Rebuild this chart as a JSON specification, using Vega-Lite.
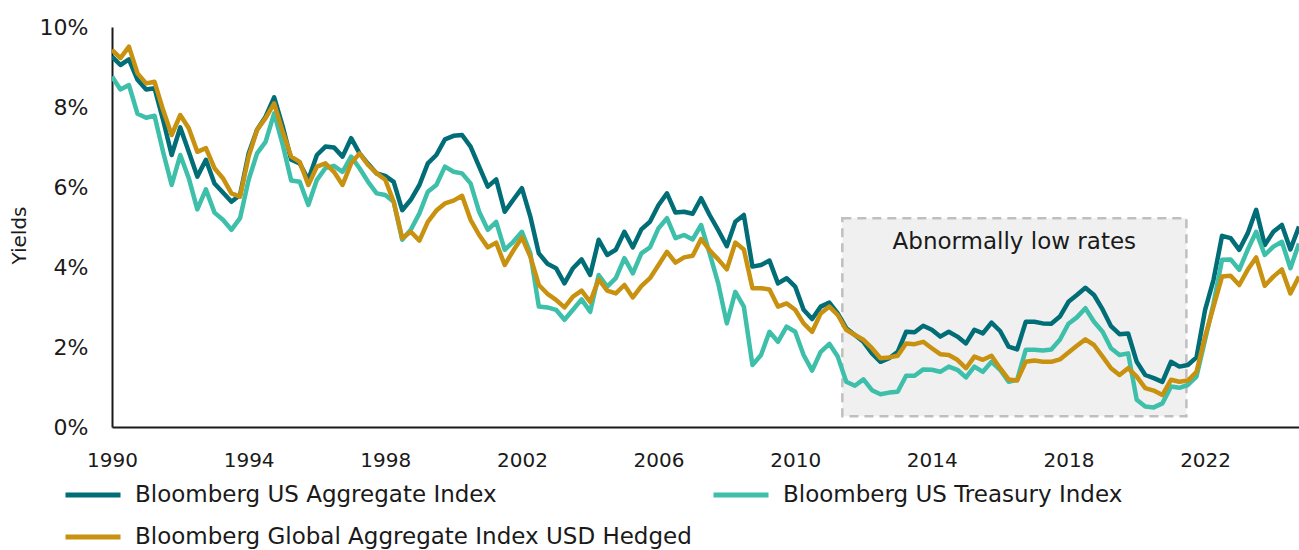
{
  "$schema": "https://vega.github.io/schema/vega-lite/v6.json",
  "width": 1187,
  "height": 400,
  "autosize": {"type": "none"},
  "padding": {"left": 112, "top": 27, "right": 0, "bottom": 123},
  "background": "white",
  "config": {"font": "DejaVu Sans", "view": {"stroke": null}},
  "datasets": {
    "names": [
      {"key": "agg", "name": "Bloomberg US Aggregate Index"},
      {"key": "tsy", "name": "Bloomberg US Treasury Index"},
      {"key": "glb", "name": "Bloomberg Global Aggregate Index USD Hedged"}
    ],
    "box": [
      {"date": "2011-05-20", "end": "2021-06-15", "value": 0.27, "hi": 5.22}
    ],
    "note": [
      {"date": "2016-06-01", "value": 4.63, "label": "Abnormally low rates"}
    ],
    "yields": [
      {"date": "1990-01-01", "agg": 9.26, "tsy": 8.76, "glb": 9.43},
      {"date": "1990-04-01", "agg": 9.05, "tsy": 8.44, "glb": 9.22},
      {"date": "1990-07-01", "agg": 9.19, "tsy": 8.55, "glb": 9.51},
      {"date": "1990-10-01", "agg": 8.68, "tsy": 7.83, "glb": 8.84},
      {"date": "1991-01-01", "agg": 8.44, "tsy": 7.73, "glb": 8.59},
      {"date": "1991-04-01", "agg": 8.47, "tsy": 7.78, "glb": 8.63},
      {"date": "1991-07-01", "agg": 7.68, "tsy": 6.88, "glb": 7.93},
      {"date": "1991-10-01", "agg": 6.8, "tsy": 6.05, "glb": 7.3},
      {"date": "1992-01-01", "agg": 7.49, "tsy": 6.8, "glb": 7.8},
      {"date": "1992-04-01", "agg": 6.88, "tsy": 6.22, "glb": 7.47},
      {"date": "1992-07-01", "agg": 6.26, "tsy": 5.44, "glb": 6.88},
      {"date": "1992-10-01", "agg": 6.68, "tsy": 5.94, "glb": 6.97},
      {"date": "1993-01-01", "agg": 6.09, "tsy": 5.36, "glb": 6.47},
      {"date": "1993-04-01", "agg": 5.86, "tsy": 5.18, "glb": 6.22},
      {"date": "1993-07-01", "agg": 5.63, "tsy": 4.93, "glb": 5.84},
      {"date": "1993-10-01", "agg": 5.8, "tsy": 5.22, "glb": 5.76},
      {"date": "1994-01-01", "agg": 6.84, "tsy": 6.18, "glb": 6.76},
      {"date": "1994-04-01", "agg": 7.43, "tsy": 6.84, "glb": 7.43},
      {"date": "1994-07-01", "agg": 7.76, "tsy": 7.13, "glb": 7.72},
      {"date": "1994-10-01", "agg": 8.24, "tsy": 7.84, "glb": 8.09},
      {"date": "1995-01-01", "agg": 7.51, "tsy": 7.05, "glb": 7.38},
      {"date": "1995-04-01", "agg": 6.68, "tsy": 6.16, "glb": 6.76},
      {"date": "1995-07-01", "agg": 6.59, "tsy": 6.13, "glb": 6.63},
      {"date": "1995-10-01", "agg": 6.18, "tsy": 5.55, "glb": 6.05},
      {"date": "1996-01-01", "agg": 6.8, "tsy": 6.18, "glb": 6.51},
      {"date": "1996-04-01", "agg": 7.01, "tsy": 6.47, "glb": 6.59},
      {"date": "1996-07-01", "agg": 6.99, "tsy": 6.53, "glb": 6.38},
      {"date": "1996-10-01", "agg": 6.76, "tsy": 6.38, "glb": 6.05},
      {"date": "1997-01-01", "agg": 7.22, "tsy": 6.76, "glb": 6.59},
      {"date": "1997-04-01", "agg": 6.84, "tsy": 6.47, "glb": 6.84},
      {"date": "1997-07-01", "agg": 6.58, "tsy": 6.13, "glb": 6.55},
      {"date": "1997-10-01", "agg": 6.34, "tsy": 5.84, "glb": 6.34},
      {"date": "1998-01-01", "agg": 6.28, "tsy": 5.8, "glb": 6.18},
      {"date": "1998-04-01", "agg": 6.13, "tsy": 5.63, "glb": 5.63},
      {"date": "1998-07-01", "agg": 5.42, "tsy": 4.68, "glb": 4.72},
      {"date": "1998-10-01", "agg": 5.68, "tsy": 4.93, "glb": 4.88},
      {"date": "1999-01-01", "agg": 6.05, "tsy": 5.34, "glb": 4.66},
      {"date": "1999-04-01", "agg": 6.59, "tsy": 5.88, "glb": 5.13},
      {"date": "1999-07-01", "agg": 6.8, "tsy": 6.05, "glb": 5.41},
      {"date": "1999-10-01", "agg": 7.19, "tsy": 6.51, "glb": 5.59},
      {"date": "2000-01-01", "agg": 7.28, "tsy": 6.38, "glb": 5.66},
      {"date": "2000-04-01", "agg": 7.3, "tsy": 6.34, "glb": 5.78},
      {"date": "2000-07-01", "agg": 7.01, "tsy": 6.09, "glb": 5.18},
      {"date": "2000-10-01", "agg": 6.51, "tsy": 5.38, "glb": 4.8},
      {"date": "2001-01-01", "agg": 6.01, "tsy": 4.93, "glb": 4.49},
      {"date": "2001-04-01", "agg": 6.19, "tsy": 5.13, "glb": 4.61},
      {"date": "2001-07-01", "agg": 5.38, "tsy": 4.43, "glb": 4.05},
      {"date": "2001-10-01", "agg": 5.68, "tsy": 4.63, "glb": 4.41},
      {"date": "2002-01-01", "agg": 5.97, "tsy": 4.88, "glb": 4.74},
      {"date": "2002-04-01", "agg": 5.26, "tsy": 4.34, "glb": 4.26},
      {"date": "2002-07-01", "agg": 4.34, "tsy": 3.01, "glb": 3.55},
      {"date": "2002-10-01", "agg": 4.08, "tsy": 2.99, "glb": 3.33},
      {"date": "2003-01-01", "agg": 3.97, "tsy": 2.93, "glb": 3.18},
      {"date": "2003-04-01", "agg": 3.59, "tsy": 2.68, "glb": 2.99},
      {"date": "2003-07-01", "agg": 3.97, "tsy": 2.93, "glb": 3.26},
      {"date": "2003-10-01", "agg": 4.19, "tsy": 3.19, "glb": 3.41},
      {"date": "2004-01-01", "agg": 3.8, "tsy": 2.88, "glb": 3.13},
      {"date": "2004-04-01", "agg": 4.68, "tsy": 3.8, "glb": 3.69},
      {"date": "2004-07-01", "agg": 4.3, "tsy": 3.51, "glb": 3.41},
      {"date": "2004-10-01", "agg": 4.43, "tsy": 3.72, "glb": 3.34},
      {"date": "2005-01-01", "agg": 4.88, "tsy": 4.22, "glb": 3.55},
      {"date": "2005-04-01", "agg": 4.49, "tsy": 3.84, "glb": 3.24},
      {"date": "2005-07-01", "agg": 4.94, "tsy": 4.34, "glb": 3.52},
      {"date": "2005-10-01", "agg": 5.13, "tsy": 4.49, "glb": 3.72},
      {"date": "2006-01-01", "agg": 5.55, "tsy": 4.97, "glb": 4.05},
      {"date": "2006-04-01", "agg": 5.84, "tsy": 5.22, "glb": 4.38},
      {"date": "2006-07-01", "agg": 5.36, "tsy": 4.72, "glb": 4.11},
      {"date": "2006-10-01", "agg": 5.38, "tsy": 4.8, "glb": 4.24},
      {"date": "2007-01-01", "agg": 5.33, "tsy": 4.69, "glb": 4.28},
      {"date": "2007-04-01", "agg": 5.72, "tsy": 5.05, "glb": 4.7},
      {"date": "2007-07-01", "agg": 5.3, "tsy": 4.34, "glb": 4.42},
      {"date": "2007-10-01", "agg": 4.92, "tsy": 3.59, "glb": 4.19},
      {"date": "2008-01-01", "agg": 4.52, "tsy": 2.59, "glb": 3.94},
      {"date": "2008-04-01", "agg": 5.13, "tsy": 3.38, "glb": 4.61},
      {"date": "2008-07-01", "agg": 5.3, "tsy": 3.01, "glb": 4.44},
      {"date": "2008-10-01", "agg": 4.01, "tsy": 1.55, "glb": 3.47},
      {"date": "2009-01-01", "agg": 4.05, "tsy": 1.8, "glb": 3.47},
      {"date": "2009-04-01", "agg": 4.16, "tsy": 2.38, "glb": 3.44},
      {"date": "2009-07-01", "agg": 3.59, "tsy": 2.13, "glb": 3.01},
      {"date": "2009-10-01", "agg": 3.72, "tsy": 2.51, "glb": 3.09},
      {"date": "2010-01-01", "agg": 3.51, "tsy": 2.38, "glb": 2.93},
      {"date": "2010-04-01", "agg": 2.93, "tsy": 1.8, "glb": 2.59},
      {"date": "2010-07-01", "agg": 2.7, "tsy": 1.41, "glb": 2.38},
      {"date": "2010-10-01", "agg": 3.01, "tsy": 1.88, "glb": 2.84},
      {"date": "2011-01-01", "agg": 3.11, "tsy": 2.08, "glb": 3.01},
      {"date": "2011-04-01", "agg": 2.84, "tsy": 1.76, "glb": 2.8},
      {"date": "2011-07-01", "agg": 2.47, "tsy": 1.13, "glb": 2.43},
      {"date": "2011-10-01", "agg": 2.3, "tsy": 1.03, "glb": 2.3},
      {"date": "2012-01-01", "agg": 2.13, "tsy": 1.19, "glb": 2.18},
      {"date": "2012-04-01", "agg": 1.84, "tsy": 0.92, "glb": 1.97},
      {"date": "2012-07-01", "agg": 1.63, "tsy": 0.82, "glb": 1.72},
      {"date": "2012-10-01", "agg": 1.72, "tsy": 0.86, "glb": 1.74},
      {"date": "2013-01-01", "agg": 1.88, "tsy": 0.88, "glb": 1.78},
      {"date": "2013-04-01", "agg": 2.38, "tsy": 1.28, "glb": 2.09},
      {"date": "2013-07-01", "agg": 2.37, "tsy": 1.28, "glb": 2.07},
      {"date": "2013-10-01", "agg": 2.53, "tsy": 1.44, "glb": 2.13},
      {"date": "2014-01-01", "agg": 2.43, "tsy": 1.43, "glb": 1.97},
      {"date": "2014-04-01", "agg": 2.26, "tsy": 1.38, "glb": 1.82},
      {"date": "2014-07-01", "agg": 2.38, "tsy": 1.51, "glb": 1.8},
      {"date": "2014-10-01", "agg": 2.26, "tsy": 1.43, "glb": 1.68},
      {"date": "2015-01-01", "agg": 2.09, "tsy": 1.24, "glb": 1.47},
      {"date": "2015-04-01", "agg": 2.43, "tsy": 1.51, "glb": 1.76},
      {"date": "2015-07-01", "agg": 2.34, "tsy": 1.38, "glb": 1.68},
      {"date": "2015-10-01", "agg": 2.61, "tsy": 1.63, "glb": 1.78},
      {"date": "2016-01-01", "agg": 2.4, "tsy": 1.43, "glb": 1.47},
      {"date": "2016-04-01", "agg": 2.01, "tsy": 1.13, "glb": 1.19},
      {"date": "2016-07-01", "agg": 1.94, "tsy": 1.18, "glb": 1.16},
      {"date": "2016-10-01", "agg": 2.63, "tsy": 1.93, "glb": 1.63},
      {"date": "2017-01-01", "agg": 2.63, "tsy": 1.93, "glb": 1.66},
      {"date": "2017-04-01", "agg": 2.59, "tsy": 1.91, "glb": 1.63},
      {"date": "2017-07-01", "agg": 2.58, "tsy": 1.94, "glb": 1.63},
      {"date": "2017-10-01", "agg": 2.76, "tsy": 2.18, "glb": 1.69},
      {"date": "2018-01-01", "agg": 3.13, "tsy": 2.58, "glb": 1.86},
      {"date": "2018-04-01", "agg": 3.3, "tsy": 2.74, "glb": 2.03},
      {"date": "2018-07-01", "agg": 3.48, "tsy": 2.97, "glb": 2.19},
      {"date": "2018-10-01", "agg": 3.3, "tsy": 2.63, "glb": 2.05},
      {"date": "2019-01-01", "agg": 2.94, "tsy": 2.38, "glb": 1.76},
      {"date": "2019-04-01", "agg": 2.52, "tsy": 1.97, "glb": 1.47},
      {"date": "2019-07-01", "agg": 2.32, "tsy": 1.8, "glb": 1.3},
      {"date": "2019-10-01", "agg": 2.34, "tsy": 1.84, "glb": 1.47},
      {"date": "2020-01-01", "agg": 1.63, "tsy": 0.68, "glb": 1.26},
      {"date": "2020-04-01", "agg": 1.3, "tsy": 0.51, "glb": 0.97},
      {"date": "2020-07-01", "agg": 1.22, "tsy": 0.49, "glb": 0.91},
      {"date": "2020-10-01", "agg": 1.13, "tsy": 0.59, "glb": 0.8},
      {"date": "2021-01-01", "agg": 1.63, "tsy": 1.01, "glb": 1.18},
      {"date": "2021-04-01", "agg": 1.51, "tsy": 0.98, "glb": 1.13},
      {"date": "2021-07-01", "agg": 1.55, "tsy": 1.05, "glb": 1.16},
      {"date": "2021-10-01", "agg": 1.74, "tsy": 1.26, "glb": 1.38},
      {"date": "2022-01-01", "agg": 2.93, "tsy": 2.18, "glb": 2.26},
      {"date": "2022-04-01", "agg": 3.68, "tsy": 3.09, "glb": 3.01},
      {"date": "2022-07-01", "agg": 4.78, "tsy": 4.18, "glb": 3.76},
      {"date": "2022-10-01", "agg": 4.72, "tsy": 4.19, "glb": 3.78},
      {"date": "2023-01-01", "agg": 4.43, "tsy": 3.93, "glb": 3.55},
      {"date": "2023-04-01", "agg": 4.84, "tsy": 4.43, "glb": 3.93},
      {"date": "2023-07-01", "agg": 5.43, "tsy": 4.88, "glb": 4.24},
      {"date": "2023-10-01", "agg": 4.55, "tsy": 4.3, "glb": 3.53},
      {"date": "2024-01-01", "agg": 4.88, "tsy": 4.51, "glb": 3.76},
      {"date": "2024-04-01", "agg": 5.05, "tsy": 4.63, "glb": 3.94},
      {"date": "2024-07-01", "agg": 4.44, "tsy": 3.97, "glb": 3.34},
      {"date": "2024-10-01", "agg": 5.01, "tsy": 4.59, "glb": 3.76}
    ]
  },
  "encoding": {
    "x": {"field": "date", "type": "temporal",
          "scale": {"type": "utc", "domain": [{"year": 1990, "month": 1, "date": 1, "utc": true}, {"year": 2024, "month": 10, "date": 1, "utc": true}]},
          "axis": {"title": null, "format": "%Y", "ticks": false, "grid": false, "domainColor": "#1a1a1a", "domainWidth": 2,
                   "labelFontSize": 20, "labelColor": "#1a1a1a", "labelPadding": 23, "labelOverlap": false, "labelFlush": false, "labelBound": false,
                   "values": [{"year": 1990, "month": 1, "date": 1, "utc": true}, {"year": 1994, "month": 1, "date": 1, "utc": true}, {"year": 1998, "month": 1, "date": 1, "utc": true}, {"year": 2002, "month": 1, "date": 1, "utc": true}, {"year": 2006, "month": 1, "date": 1, "utc": true}, {"year": 2010, "month": 1, "date": 1, "utc": true}, {"year": 2014, "month": 1, "date": 1, "utc": true}, {"year": 2018, "month": 1, "date": 1, "utc": true}, {"year": 2022, "month": 1, "date": 1, "utc": true}]}},
    "y": {"field": "value", "type": "quantitative",
          "scale": {"domain": [0, 10], "nice": false},
          "axis": {"title": "Yields", "values": [0, 2, 4, 6, 8, 10], "labelExpr": "datum.value + '%'", "ticks": false, "grid": false,
                   "domainColor": "#1a1a1a", "domainWidth": 2, "labelFontSize": 22, "labelColor": "#1a1a1a", "labelPadding": 24,
                   "titleFontSize": 20, "titleFontWeight": "normal", "titleColor": "#1a1a1a", "titleAngle": 270, "titleAlign": "center", "titleBaseline": "middle", "titleX": -93, "titleY": 208}}
  },
  "layer": [
    {
      "data": {"name": "box"},
      "mark": {"type": "rect", "fill": "#F0F0F0", "stroke": "#BFBFBF", "strokeWidth": 2.5, "strokeDash": [9, 6]},
      "encoding": {"x2": {"field": "end"}, "y2": {"field": "hi"}}
    },
    {
      "data": {"name": "note"},
      "mark": {"type": "text", "fontSize": 23, "color": "#1a1a1a", "align": "center", "baseline": "middle"},
      "encoding": {"text": {"field": "label"}}
    },
    {
      "data": {"name": "yields"},
      "transform": [
        {"fold": ["agg", "tsy", "glb"], "as": ["key", "value"]},
        {"lookup": "key", "from": {"data": {"name": "names"}, "key": "key", "fields": ["name"]}}
      ],
      "mark": {"type": "line", "strokeWidth": 4.5, "strokeJoin": "round", "clip": true},
      "encoding": {
        "color": {"field": "name", "type": "nominal",
                  "scale": {"domain": ["Bloomberg US Aggregate Index", "Bloomberg Global Aggregate Index USD Hedged", "Bloomberg US Treasury Index"], "range": ["#006D77", "#C8910F", "#3DBFAA"]},
                  "legend": {"orient": "none", "legendX": -49, "legendY": 438, "columns": 2, "title": null, "padding": 0,
                             "symbolType": "stroke", "symbolSize": 3025, "symbolStrokeWidth": 5, "labelFontSize": 23, "labelColor": "#1a1a1a",
                             "labelOffset": 12, "columnPadding": 11, "rowPadding": -5, "labelLimit": 1000}},
        "order": {"field": "date", "type": "temporal"}
      }
    }
  ]
}
